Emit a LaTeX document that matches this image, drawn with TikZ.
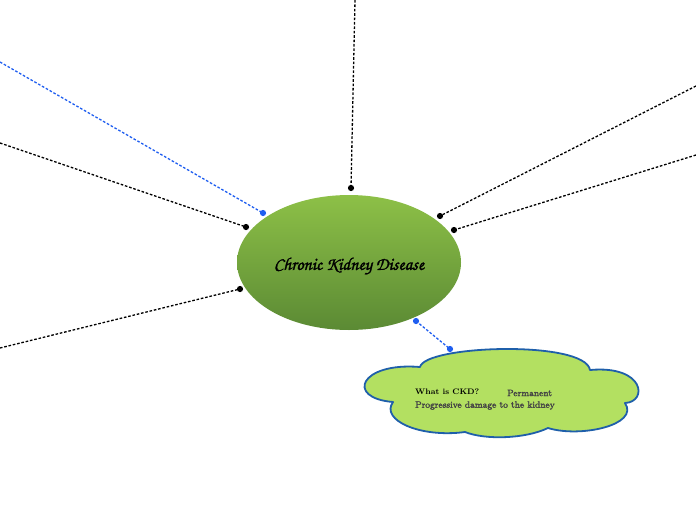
\documentclass[tikz,border=0pt]{standalone}
\usepackage{fontspec}
\newfontfamily\chorus[FakeBold=1.6]{texgyrechorus-mediumitalic.otf}
\newfontfamily\cldfont[FakeBold=2.6]{Latin Modern Roman}
\usetikzlibrary{shapes.geometric}

\definecolor{ckdtop}{HTML}{8DC047}
\definecolor{ckdbot}{HTML}{5B8A34}
\definecolor{linkblue}{HTML}{1F5EF0}
\definecolor{cloudfill}{HTML}{B3E061}
\definecolor{cloudline}{HTML}{1F5FAA}
\definecolor{txtgray}{HTML}{454545}

\tikzset{
  link/.style={line width=1.3pt, dash pattern=on 2.6pt off 1.8pt},
  bluelink/.style={link, linkblue},
  dot/.style={radius=3.1},
  cloudtxt/.style={anchor=west, inner sep=0pt, font=\cldfont\fontsize{9.2}{11}\selectfont},
}

\begin{document}
\begin{tikzpicture}[x=1pt, y=-1pt, line join=round]

  %% ════ 中心椭圆 ════
  \node[ellipse, minimum width=224, minimum height=135, inner sep=0pt,
        top color=ckdtop, bottom color=ckdbot, draw=none] (ckd) at (349,262.5) {};
  \node[inner sep=0pt, font=\chorus\fontsize{18}{20}\selectfont] (ttl) at (349,266) {Chronic Kidney Disease};

  %% ════ 连线端点（自由端 / 圆点）════
  \coordinate (eTop)  at (355,0);     \coordinate (pTop)  at (351,188);
  \coordinate (eBlue) at (0,62);      \coordinate (pBlue) at (263,213);
  \coordinate (eLup)  at (0,143);     \coordinate (pLup)  at (246,227);
  \coordinate (eLdn)  at (0,348);     \coordinate (pLdn)  at (240,289);
  \coordinate (eRup)  at (696,86);    \coordinate (pRup)  at (440,216);
  \coordinate (eRdn)  at (696,155);   \coordinate (pRdn)  at (454,230);
  \coordinate (pCkd)  at (416,321);   \coordinate (pCld)  at (450,349);

  %% ════ 虚线 ════
  \draw[link] (eTop) -- (pTop);
  \draw[bluelink] (eBlue) -- (pBlue);
  \draw[link] (eLup) -- (pLup);
  \draw[link] (eLdn) -- (pLdn);
  \draw[link] (eRup) -- (pRup);
  \draw[link] (eRdn) -- (pRdn);
  \draw[bluelink] (pCkd) -- (pCld);

  %% ════ 云朵 ════
  \draw[cloudline, fill=cloudfill, line width=1.8pt]
    (420,367) .. controls (425,345) and (585,340) .. (590,370)
              .. controls (645,365) and (648,402) .. (625,403)
              .. controls (640,425) and (580,438) .. (548,428)
              .. controls (525,439) and (485,440) .. (465,432)
              .. controls (420,438) and (380,420) .. (393,402)
              .. controls (345,398) and (360,362) .. (420,367) -- cycle;

  %% ════ 实心点 ════
  \fill (pTop) circle[dot];
  \fill (pLup) circle[dot];
  \fill (pLdn) circle[dot];
  \fill (pRup) circle[dot];
  \fill (pRdn) circle[dot];
  \fill[linkblue] (pBlue) circle[dot];
  \fill[linkblue] (pCkd) circle[dot];
  \fill[linkblue] (pCld) circle[dot];

  %% ════ 云朵文字 ════
  \node[cloudtxt, font=\fontsize{8}{10}\selectfont\bfseries] (what) at (415,392) {What is CKD?};
  \node[cloudtxt, txtgray] (perm) at (507,393) {Permanent};
  \node[cloudtxt, txtgray] (prog) at (415,405.5) {Progressive damage to the kidney};

  \pgfresetboundingbox
  \path[use as bounding box] (0,0) rectangle (696,520);
\end{tikzpicture}
\end{document}
